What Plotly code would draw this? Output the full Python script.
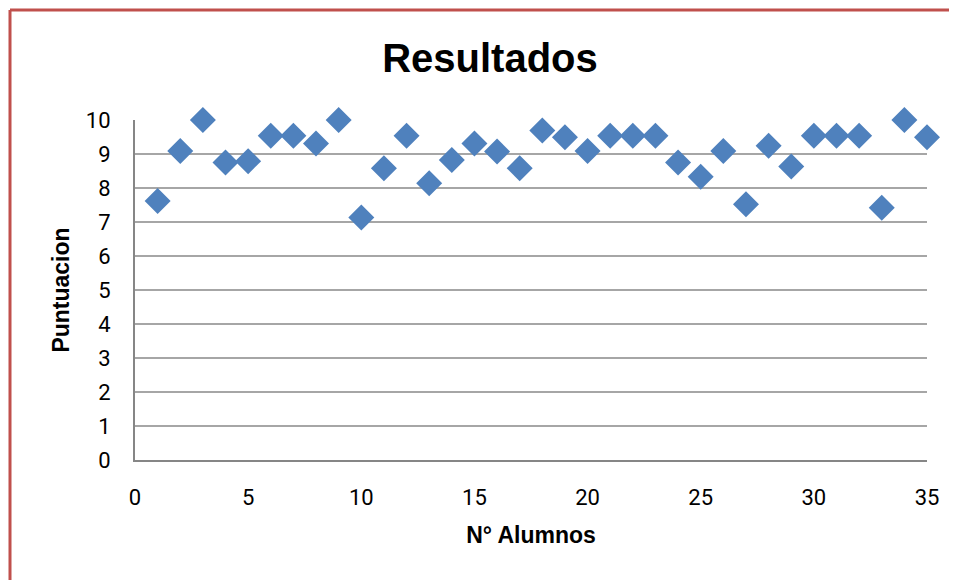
import plotly.graph_objects as go

alumnos = list(range(1, 36))
puntuacion = [7.62, 9.09, 10.0, 8.75, 8.79, 9.54, 9.54, 9.31, 10.0, 7.13,
              8.58, 9.54, 8.14, 8.82, 9.31, 9.07, 8.58, 9.69, 9.49, 9.09,
              9.54, 9.54, 9.54, 8.75, 8.33, 9.09, 7.52, 9.24, 8.63, 9.54,
              9.54, 9.54, 7.42, 10.0, 9.49]
x_ticks = [0, 5, 10, 15, 20, 25, 30, 35]
y_ticks = list(range(0, 11))

OFF = 8  # page body margin
W, H = 957 - OFF, 580 - OFF
L, T = 135 - OFF, 120 - OFF
pw, ph = 792, 340
R, B = W - L - pw, H - T - ph

def px_x(p):
    return (p - OFF - L) / pw

def px_y(p):
    return (T + ph - (p - OFF)) / ph

fig = go.Figure()
fig.add_trace(go.Scatter(
    x=alumnos, y=puntuacion, mode="markers",
    marker=dict(symbol="diamond", size=20, color="#4F81BD",
                line=dict(width=0)),
    cliponaxis=False, showlegend=False,
))

grid = "#A6A6A6"
fig.update_layout(
    width=W, height=H,
    margin=dict(l=L, r=R, t=T, b=B),
    paper_bgcolor="white", plot_bgcolor="white",
    title=dict(text="<b>Resultados</b>", x=(490 - OFF) / W, xanchor="center",
               y=1 - (58 - OFF) / H, yanchor="middle",
               font=dict(family="Liberation Sans", size=40, color="black")),
    font=dict(family="Roboto", size=22, color="black"),
    xaxis=dict(range=[0, 35], tickvals=x_ticks, showgrid=False,
               showline=True, linecolor="#868686", linewidth=2,
               ticks="", ticklabelstandoff=17, zeroline=False,
               tickfont=dict(size=22),
               title=dict(text="<b>N° Alumnos</b>", standoff=17,
                          font=dict(family="Liberation Sans", size=23))),
    yaxis=dict(range=[0, 10], tickvals=y_ticks, showgrid=True,
               gridcolor=grid, gridwidth=2,
               showline=True, linecolor="#868686", linewidth=2,
               ticks="", ticklabelstandoff=18, zeroline=False,
               tickfont=dict(size=22),
               title=dict(text="<b>Puntuacion</b>", standoff=10,
                          font=dict(family="Liberation Sans", size=23))),
    shapes=[
        dict(type="line", xref="paper", yref="paper",
             x0=px_x(10), x1=px_x(957 + 5), y0=px_y(10), y1=px_y(10),
             line=dict(color="#C0504D", width=3)),
        dict(type="line", xref="paper", yref="paper",
             x0=px_x(10), x1=px_x(10), y0=px_y(10), y1=px_y(580 + 5),
             line=dict(color="#C0504D", width=3)),
    ],
)

fig.write_html("out.html")
